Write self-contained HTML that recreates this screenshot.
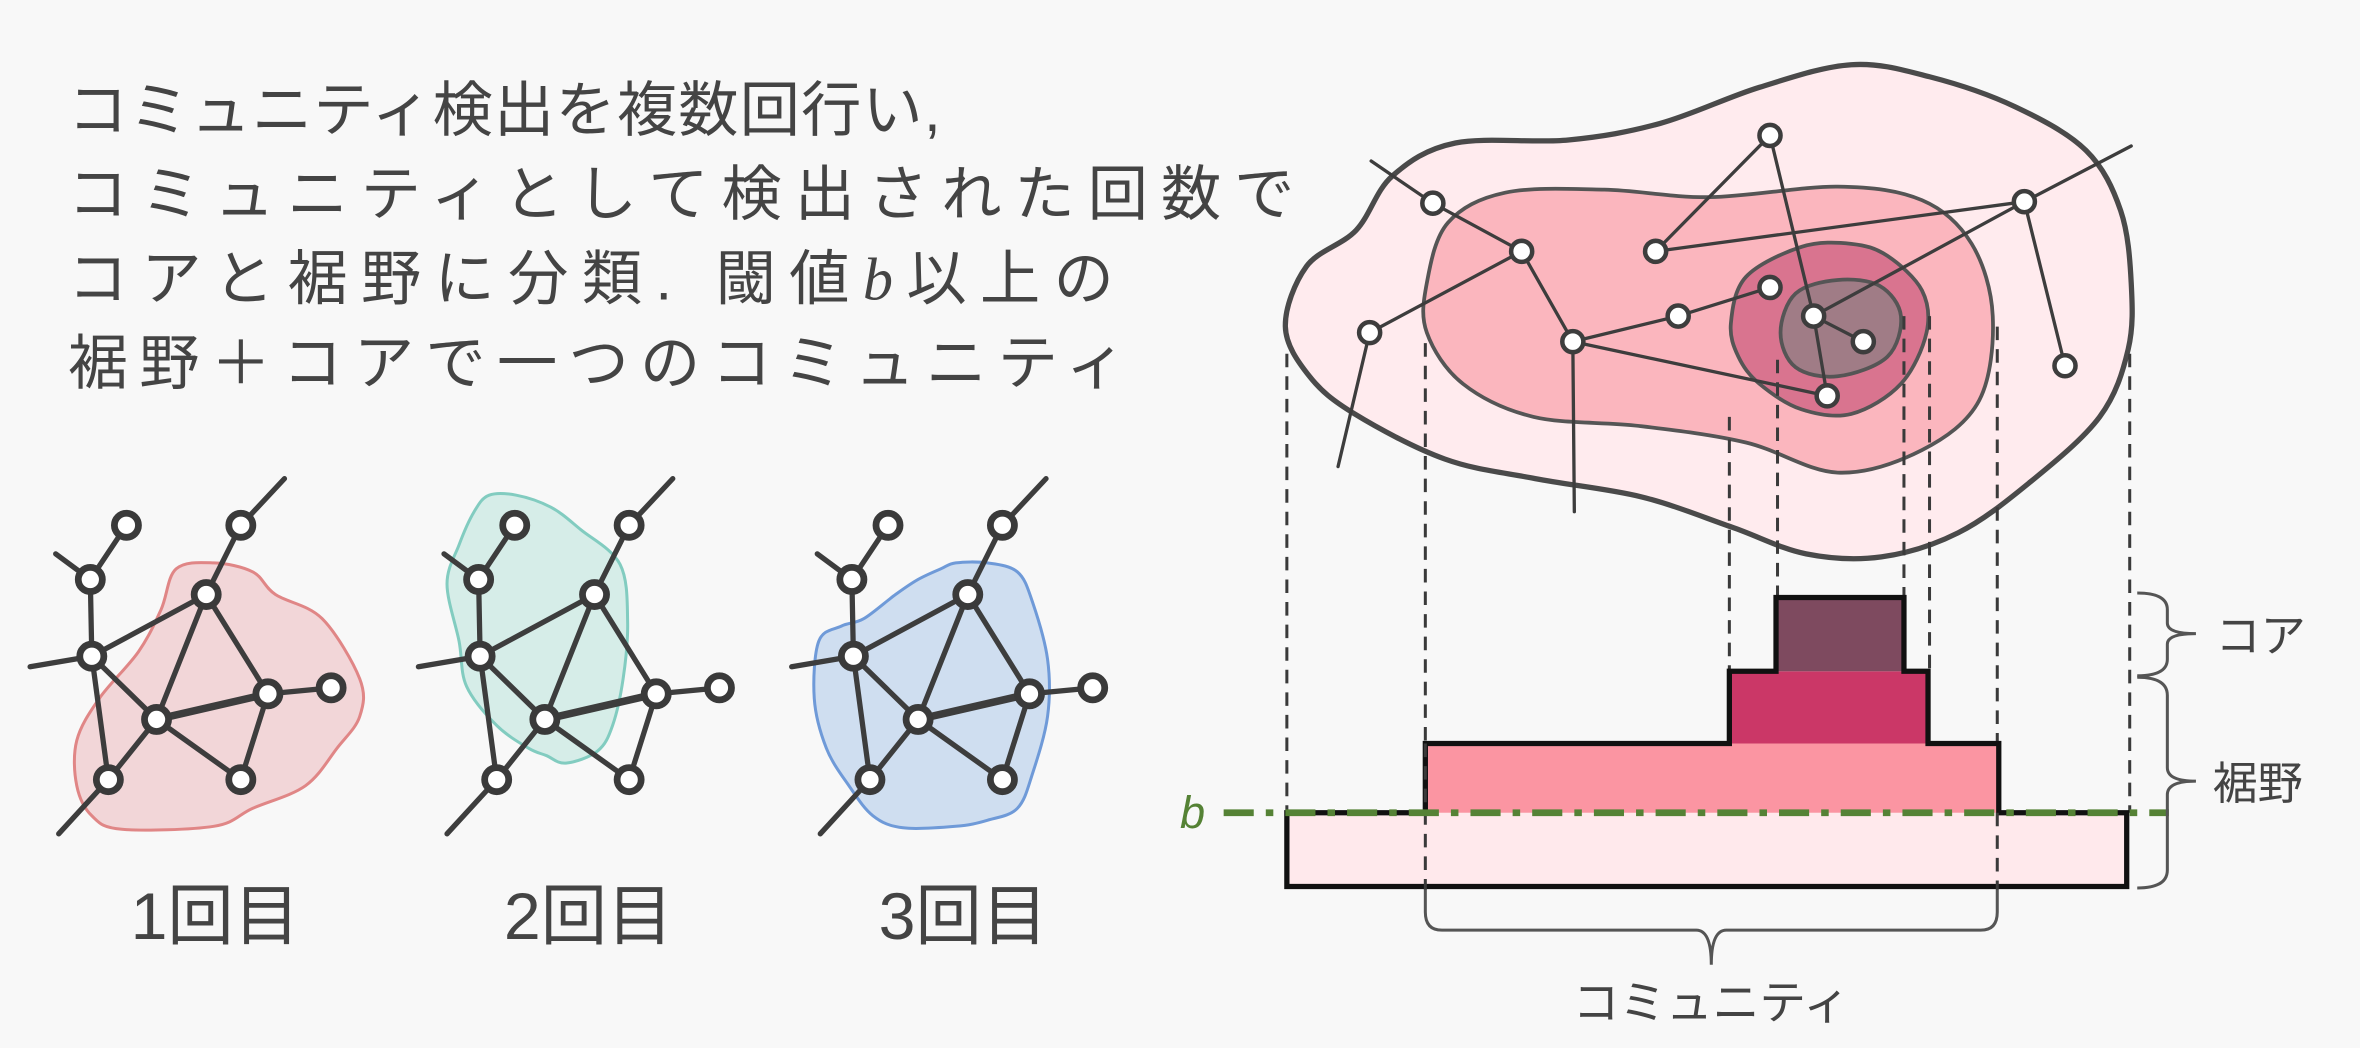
<!DOCTYPE html>
<html><head><meta charset="utf-8"><style>
html,body{margin:0;padding:0;background:#f8f8f8;}
svg{display:block;}
text{font-family:"Liberation Sans","Noto Sans CJK JP",sans-serif;fill:#444;}
</style></head><body>
<svg id="s" width="2360" height="1048" viewBox="0 0 1568 696.3" xmlns="http://www.w3.org/2000/svg">
<rect width="1568" height="697" fill="#f8f8f8"/>
<text x="45" y="87" font-size="40" textLength="580" lengthAdjust="spacing">コミュニティ検出を複数回行い,</text>
<text x="45" y="143" font-size="40" textLength="815" lengthAdjust="spacing">コミュニティとして検出された回数で</text>
<text x="45" y="199" font-size="40" textLength="695" lengthAdjust="spacing">コアと裾野に分類. 閾値<tspan font-family="Liberation Serif, serif" font-style="italic">b</tspan>以上の</text>
<text x="45" y="255" font-size="40" textLength="703" lengthAdjust="spacing">裾野＋コアで一つのコミュニティ</text>

<polygon class="sm" points="117,378 142,374 168,380 183,395 214,411 239,451 239,476 224,497 203,522 168,537 142,549 81,551 61,542 51,522 51,492 66,464 92,433 107,405" fill="#f2d6d8" stroke="#e08686" stroke-width="2" stroke-linejoin="round"/>
<polygon class="sm" points="325,329 343,329 366,337 386,352 412,375 417,413 414,451 407,482 397,499 376,507 363,502 351,497 330,482 310,456 305,426 297,388 305,362 315,340" fill="#d6ede8" stroke="#82ccc0" stroke-width="2" stroke-linejoin="round"/>
<polygon class="sm" points="635,374 656,374 676,380 686,400 696,438 696,476 686,514 676,537 656,545 635,549 600,550 580,542 564,522 549,497 541,464 544,426 559,416 574,411 595,395 610,385 625,378" fill="#cfdef0" stroke="#6f9ad8" stroke-width="2" stroke-linejoin="round"/>

<defs>
<g id="g1">
 <g stroke="#3d3d3d" stroke-width="3.5" stroke-linecap="round">
  <line x1="84" y1="349" x2="60" y2="385"/>
  <line x1="60" y1="385" x2="37" y2="368"/>
  <line x1="160" y1="349" x2="189" y2="318"/>
  <line x1="160" y1="349" x2="137" y2="395"/>
  <line x1="60" y1="385" x2="61" y2="436"/>
  <line x1="61" y1="436" x2="20" y2="443"/>
  <line x1="137" y1="395" x2="61" y2="436"/>
  <line x1="137" y1="395" x2="104" y2="478"/>
  <line x1="137" y1="395" x2="178" y2="461"/>
  <line x1="61" y1="436" x2="104" y2="478"/>
  <line x1="61" y1="436" x2="72" y2="518"/>
  <line x1="104" y1="478" x2="178" y2="461" stroke-width="5"/>
  <line x1="104" y1="478" x2="72" y2="518"/>
  <line x1="104" y1="478" x2="160" y2="518"/>
  <line x1="178" y1="461" x2="220" y2="457"/>
  <line x1="178" y1="461" x2="160" y2="518"/>
  <line x1="72" y1="518" x2="39" y2="554"/>
 </g>
 <g fill="#fff" stroke="#3a3a3a" stroke-width="4.5">
  <circle cx="84" cy="349" r="8"/><circle cx="160" cy="349" r="8"/><circle cx="60" cy="385" r="8"/>
  <circle cx="137" cy="395" r="8"/><circle cx="61" cy="436" r="8"/><circle cx="104" cy="478" r="8"/>
  <circle cx="178" cy="461" r="8"/><circle cx="220" cy="457" r="8"/><circle cx="72" cy="518" r="8"/>
  <circle cx="160" cy="518" r="8"/>
 </g>
</g>
</defs>
<use href="#g1"/>
<use href="#g1" transform="translate(258,0)"/>
<use href="#g1" transform="translate(506,0)"/>
<text x="143" y="624" font-size="44" text-anchor="middle">1回目</text>
<text x="391" y="624" font-size="44" text-anchor="middle">2回目</text>
<text x="640" y="624" font-size="44" text-anchor="middle">3回目</text>

<polygon class="sm" points="854,217 868,177 901,153 925,117 967,95 1042,93 1103,82 1169,58 1230,43 1282,51 1339,71 1386,100 1409,140 1416,188 1414,232 1395,277 1348,321 1301,354 1250,370 1200,368 1150,350 1090,330 1020,318 960,305 900,275 870,250" fill="#ffebee" stroke="#4a4a4a" stroke-width="3.5" stroke-linejoin="round"/>
<polygon class="sm" points="948,188 962,148 1000,128 1066,126 1136,131 1221,124 1277,133 1310,162 1324,210 1315,266 1277,299 1221,314 1160,294 1089,283 1019,277 972,255 948,221" fill="#fbb6be" stroke="#555" stroke-width="2.5" stroke-linejoin="round"/>
<polygon class="sm" points="1150,215 1160,184 1197,164 1230,162 1254,170 1277,193 1280,221 1263,255 1230,275 1197,272 1169,255 1155,237" fill="#d9748f" stroke="#555" stroke-width="2.5" stroke-linejoin="round"/>
<polygon class="sm" points="1183,221 1193,195 1221,186 1249,190 1263,210 1254,237 1221,250 1193,244" fill="#a07c86" stroke="#555" stroke-width="2.5" stroke-linejoin="round"/>

<g stroke="#3a3a3a" stroke-width="2" stroke-dasharray="9 6">
 <line x1="855" y1="235" x2="855" y2="540"/>
 <line x1="947" y1="228" x2="947" y2="591"/>
 <line x1="1149" y1="277" x2="1149" y2="446"/>
 <line x1="1181" y1="239" x2="1181" y2="397"/>
 <line x1="1265" y1="210" x2="1265" y2="397"/>
 <line x1="1282" y1="210" x2="1282" y2="446"/>
 <line x1="1327" y1="217" x2="1327" y2="591"/>
 <line x1="1415" y1="235" x2="1415" y2="540"/>
</g>

<g stroke="#3d3d3d" stroke-width="2.2" stroke-linecap="round">
 <line x1="911" y1="107" x2="952" y2="135"/>
 <line x1="952" y1="135" x2="1011" y2="167"/>
 <line x1="1011" y1="167" x2="910" y2="221"/>
 <line x1="1011" y1="167" x2="1045" y2="227"/>
 <line x1="910" y1="221" x2="889" y2="310"/>
 <line x1="1045" y1="227" x2="1046" y2="340"/>
 <line x1="1045" y1="227" x2="1115" y2="210"/>
 <line x1="1115" y1="210" x2="1176" y2="191"/>
 <line x1="1045" y1="227" x2="1214" y2="263"/>
 <line x1="1176" y1="90" x2="1100" y2="167"/>
 <line x1="1176" y1="90" x2="1205" y2="210"/>
 <line x1="1205" y1="210" x2="1214" y2="263"/>
 <line x1="1100" y1="167" x2="1345" y2="134"/>
 <line x1="1345" y1="134" x2="1205" y2="210"/>
 <line x1="1345" y1="134" x2="1416" y2="97"/>
 <line x1="1345" y1="134" x2="1372" y2="243"/>
 <line x1="1205" y1="210" x2="1238" y2="227"/>
</g>
<g fill="#fff" stroke="#3d3d3d" stroke-width="3">
 <circle cx="952" cy="135" r="7"/><circle cx="1011" cy="167" r="7"/><circle cx="910" cy="221" r="7"/>
 <circle cx="1045" cy="227" r="7"/><circle cx="1176" cy="90" r="7"/><circle cx="1100" cy="167" r="7"/>
 <circle cx="1345" cy="134" r="7"/><circle cx="1115" cy="210" r="7"/><circle cx="1176" cy="191" r="7"/>
 <circle cx="1205" cy="210" r="7"/><circle cx="1238" cy="227" r="7"/><circle cx="1214" cy="263" r="7"/>
 <circle cx="1372" cy="243" r="7"/>
</g>

<rect x="855" y="540" width="558" height="49" fill="#ffe9ec"/>
<rect x="947" y="494" width="381" height="46" fill="#fb95a2"/>
<rect x="1149" y="446" width="132" height="48" fill="#cb3767"/>
<rect x="1180" y="397" width="85" height="49" fill="#7e4a5f"/>
<polygon points="855,589 855,540 947,540 947,494 1149,494 1149,446 1180,446 1180,397 1265,397 1265,446 1281,446 1281,494 1328,494 1328,540 1413,540 1413,589" fill="none" stroke="#111" stroke-width="3.5"/>
<g stroke="#3a3a3a" stroke-width="2" stroke-dasharray="9 6">
 <line x1="947" y1="494" x2="947" y2="591"/>
 <line x1="1327" y1="540" x2="1327" y2="591"/>
</g>
<line x1="813" y1="540" x2="1441" y2="540" stroke="#558235" stroke-width="4.5" stroke-dasharray="20 8 5 8"/>
<text x="784" y="550" font-size="30" font-family="Liberation Serif, serif" font-style="italic" style="fill:#558235">b</text>

<g fill="none" stroke="#555" stroke-width="2">
 <path d="M1420,394 Q1440,394 1440,405 L1440,414 Q1440,421 1459,421 Q1440,421 1440,428 L1440,438 Q1440,449 1420,449"/>
 <path d="M1420,450 Q1440,450 1440,462 L1440,510 Q1440,519 1459,519 Q1440,519 1440,528 L1440,578 Q1440,590 1420,590"/>
 <path d="M947,591 L947,606 Q947,618 958,618 L1127,618 Q1137,618 1137,641 Q1137,618 1147,618 L1316,618 Q1327,618 1327,606 L1327,591"/>
</g>
<text x="1472" y="433" font-size="30">コア</text>
<text x="1470" y="531" font-size="30">裾野</text>
<text x="1137" y="677" font-size="31" text-anchor="middle">コミュニティ</text>
</svg>
<script>
(function(){
var NS="http://www.w3.org/2000/svg";
document.querySelectorAll("polygon.sm").forEach(function(pg){
 var p=pg.getAttribute("points").trim().split(/\s+/).map(function(s){return s.split(",").map(Number);});
 var n=p.length,d="M"+p[0][0]+","+p[0][1];
 for(var i=0;i<n;i++){
  var p0=p[(i-1+n)%n],p1=p[i],p2=p[(i+1)%n],p3=p[(i+2)%n];
  var c1=[p1[0]+(p2[0]-p0[0])/6,p1[1]+(p2[1]-p0[1])/6];
  var c2=[p2[0]-(p3[0]-p1[0])/6,p2[1]-(p3[1]-p1[1])/6];
  d+=" C"+c1[0].toFixed(1)+","+c1[1].toFixed(1)+" "+c2[0].toFixed(1)+","+c2[1].toFixed(1)+" "+p2[0]+","+p2[1];
 }
 d+="Z";
 var path=document.createElementNS(NS,"path");
 path.setAttribute("d",d);
 ["fill","stroke","stroke-width","stroke-linejoin"].forEach(function(a){path.setAttribute(a,pg.getAttribute(a));});
 pg.parentNode.replaceChild(path,pg);
});
})();
</script>
</body></html>
